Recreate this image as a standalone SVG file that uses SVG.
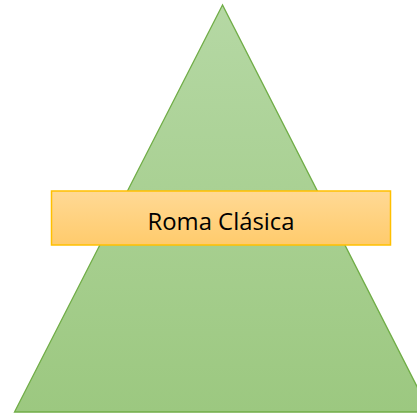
<svg xmlns="http://www.w3.org/2000/svg" width="417" height="414" viewBox="0 0 417 414">
<defs>
<linearGradient id="gGreen" x1="0" y1="0" x2="0" y2="1">
<stop offset="0" stop-color="#b5d8a4"/>
<stop offset="1" stop-color="#9cc880"/>
</linearGradient>
<linearGradient id="gOrange" x1="0" y1="0" x2="0" y2="1">
<stop offset="0" stop-color="#ffd995"/>
<stop offset="1" stop-color="#ffcb6c"/>
</linearGradient>
<style>
.tri{fill:url(#gGreen);stroke:#70ad47;stroke-width:1.3}
.box{fill:url(#gOrange);stroke:#ffc000;stroke-width:1.5}
.lbl{font-family:"Open Sans","Liberation Sans",sans-serif;font-size:24px;fill:#000;text-anchor:middle}
</style>
</defs>
<g id="pyramid">
<polygon class="tri" points="222.5,5 14.5,412 430,412"/>
</g>
<g id="connectors"></g>
<g id="label-box">
<rect class="box" x="51.5" y="191" width="339" height="54"/>
<text class="lbl" x="221" y="229.5" textLength="147" lengthAdjust="spacingAndGlyphs">Roma Clásica</text>
</g>
</svg>
